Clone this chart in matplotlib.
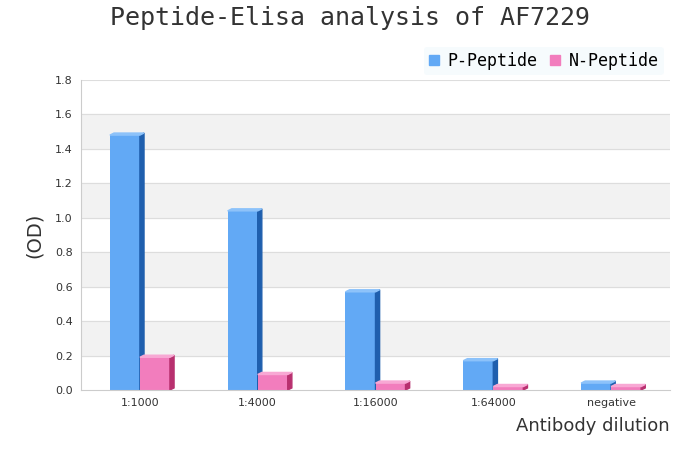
import matplotlib

matplotlib.use("Agg")
import matplotlib.pyplot as plt
import numpy as np
from matplotlib.patches import Polygon

categories = ["1:1000", "1:4000", "1:16000", "1:64000", "negative"]
p_peptide = [1.48, 1.04, 0.57, 0.17, 0.04]
n_peptide = [0.19, 0.09, 0.04, 0.02, 0.02]
y_ticks = [0.0, 0.2, 0.4, 0.6, 0.8, 1.0, 1.2, 1.4, 1.6, 1.8]

fig = plt.figure(figsize=(7.0, 4.5), dpi=100)
ax = fig.add_axes([81 / 700, 60 / 450, 589 / 700, 310 / 450])

# alternating bands
for lo in [0.2, 0.6, 1.0, 1.4]:
    ax.axhspan(lo, lo + 0.2, color="#f2f2f2", zorder=0)
for t in y_ticks[1:]:
    ax.axhline(t, color="#dddddd", lw=0.8, zorder=0.5)

x = np.arange(len(categories))
w = 0.255
dx, dy = 0.035, 0.012


def bars_3d(xs, vals, front, side, top):
    ax.bar(xs, vals, width=w, align="edge", color=front, zorder=2)
    for x0, v in zip(xs, vals):
        ax.add_patch(Polygon([(x0 + w, 0), (x0 + w + dx, dy), (x0 + w + dx, v + dy), (x0 + w, v)],
                             closed=True, color=side, zorder=2))
        ax.add_patch(Polygon([(x0, v), (x0 + dx, v + dy), (x0 + w + dx, v + dy), (x0 + w, v)],
                             closed=True, color=top, zorder=2))


bars_3d(x - w, p_peptide, "#62a9f5", "#1f5fae", "#8cc2fa")
bars_3d(x, n_peptide, "#f27dbd", "#b8306f", "#f8a8d4")

ax.set_xlim(-0.5, len(categories) - 0.5)
ax.set_ylim(0, 1.8)
ax.set_yticks(y_ticks)
ax.set_yticklabels([f"{t:.1f}" for t in y_ticks], fontsize=8, color="#333333")
ax.set_xticks(x)
ax.set_xticklabels(categories, fontsize=8, color="#333333")
ax.tick_params(length=0, pad=6)
for s in ["top", "right"]:
    ax.spines[s].set_visible(False)
ax.spines["left"].set_color("#cccccc")
ax.spines["bottom"].set_color("#cccccc")

ax.set_ylabel("(OD)", fontsize=14, color="#333333", labelpad=8)
fig.text(670 / 700, 1 - 426 / 450, "Antibody dilution", ha="right", va="center",
         fontsize=13, color="#333333")
fig.text(350 / 700, 1 - 18 / 450, "Peptide-Elisa analysis of AF7229", ha="center", va="center",
         fontsize=18, family="DejaVu Sans Mono", color="#333333")

leg = fig.legend(handles=[plt.Rectangle((0, 0), 1, 1, color="#62a9f5"),
                          plt.Rectangle((0, 0), 1, 1, color="#f27dbd")],
                 labels=["P-Peptide", "N-Peptide"], loc="center right",
                 bbox_to_anchor=(672 / 700, 1 - 61 / 450), ncol=2, frameon=True,
                 prop={"family": "DejaVu Sans Mono", "size": 12},
                 handlelength=0.6, handleheight=0.6, columnspacing=0.8, handletextpad=0.5,
                 borderpad=0.3)
leg.get_frame().set_facecolor("#f4fafd")
leg.get_frame().set_edgecolor("none")

fig.savefig("out.png", dpi=100)
